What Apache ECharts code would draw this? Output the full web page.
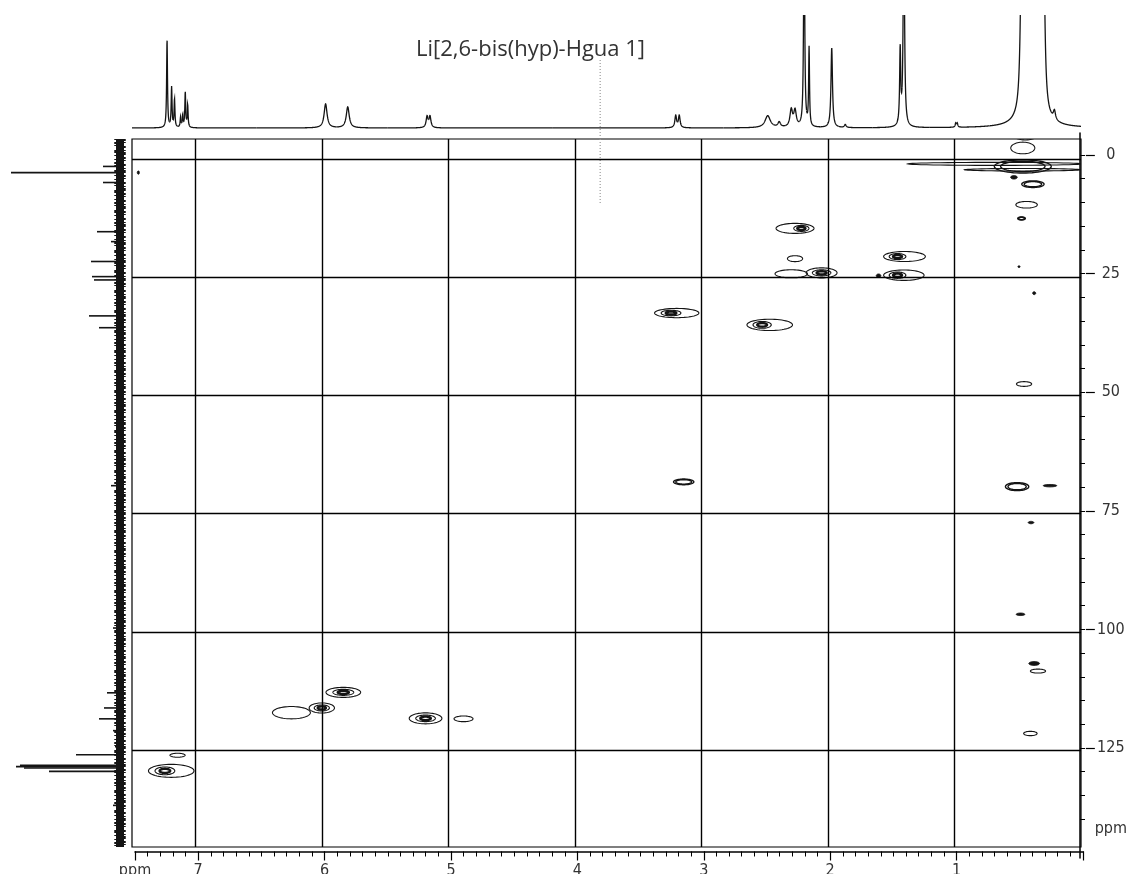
<!DOCTYPE html>
<html>
<head>
<meta charset="utf-8">
<script src="https://cdn.jsdelivr.net/npm/echarts@6/dist/echarts.min.js"></script>
<style>
  html, body { margin: 0; padding: 0; background: #fff; }
  #chart { width: 1130px; height: 874px; }
</style>
</head>
<body>
<div id="chart"></div>
<script>
// ---- data -------------------------------------------------------------
const titleText = 'Li[2,6-bis(hyp)-Hgua 1]';

// 1H projection: [ppm, height, half width at half height (ppm)]
const protonPeaks = [
  [7.223, 88, 0.004], [7.187, 40, 0.004], [7.164, 28, 0.004], [7.116, 10, 0.004],
  [7.099, 12, 0.004], [7.079, 35, 0.004], [7.060, 22, 0.004],
  [5.970, 24, 0.014], [5.795, 21, 0.014],
  [5.168, 11, 0.009], [5.145, 11, 0.009],
  [3.203, 12, 0.008], [3.175, 12, 0.008],
  [2.476, 12, 0.025], [2.385, 5, 0.012], [2.290, 17, 0.012], [2.260, 16, 0.012],
  [2.188, 220, 0.005], [2.149, 78, 0.004],
  [1.970, 80, 0.007], [1.863, 3, 0.008],
  [1.429, 75, 0.005], [1.400, 220, 0.006],
  [0.990, 4, 0.005], [0.978, 4, 0.005],
  [0.470, 150, 0.011], [0.440, 150, 0.011], [0.410, 150, 0.011], [0.380, 150, 0.011],
  [0.350, 150, 0.011], [0.320, 150, 0.011], [0.295, 150, 0.011],
  [0.390, 30, 0.06], [0.210, 9, 0.01]
];

// 13C projection: [ppm, intensity]
const carbonPeaks = [
  [1.6, 17], [2.9, 109], [5.0, 17], [15.4, 23], [17.5, 9], [21.7, 29],
  [24.9, 28], [25.6, 26], [33.2, 31], [35.7, 21], [69.1, 9], [99.2, 7],
  [107.6, 3], [112.9, 13], [116.1, 16], [118.4, 21], [120.9, 7], [124.3, 5],
  [126.0, 44], [128.2, 100], [128.5, 104], [128.8, 96], [129.5, 71], [136.7, 7]
];

// cross peaks: [1H ppm, 13C ppm, 1H half width, 13C half width, contour levels, outer contour extension (1H ppm)]
const crossPeaks = [
  [7.24, 129.4, 0.13, 1.37, 3, 0.10],
  [7.14, 126.1, 0.06, 0.42, 1, 0],
  [5.83, 112.8, 0.137, 1.06, 3, 0],
  [6.00, 116.1, 0.10, 1.06, 3, 0],
  [6.27, 117.1, 0.12, 1.3, 1, 0.06],
  [5.18, 118.3, 0.129, 1.16, 3, 0],
  [4.88, 118.4, 0.075, 0.6, 1, 0],
  [3.24, 32.6, 0.13, 0.98, 3, 0.09],
  [2.52, 35.1, 0.12, 1.2, 3, 0.12],
  [2.21, 14.7, 0.10, 1.06, 3, -0.10],
  [2.26, 21.1, 0.06, 0.63, 1, 0],
  [2.05, 24.1, 0.122, 1.06, 3, 0],
  [2.29, 24.3, 0.128, 0.85, 1, 0],
  [1.45, 20.65, 0.11, 1.06, 3, 0.11],
  [1.45, 24.6, 0.11, 1.1, 3, 0.10],
  [1.60, 24.7, 0.018, 0.35, 0, 0],
  [0.46, 1.6, 0.225, 1.4, 2, 0],
  [0.68, 1.06, 0.69, 0.32, 1, 0],
  [0.46, 2.3, 0.46, 0.27, 1, 0],
  [0.46, -2.3, 0.095, 1.23, 1, 0],
  [0.44, -4.9, 0.09, 0.9, 1, 0],
  [0.53, 3.9, 0.026, 0.36, 0, 0],
  [0.38, 5.35, 0.088, 0.7, 2, 0],
  [0.43, 9.7, 0.085, 0.7, 1, 0],
  [0.47, 12.6, 0.03, 0.32, 2, 0],
  [0.49, 22.8, 0.008, 0.2, 0, 0],
  [0.37, 28.4, 0.012, 0.3, 0, 0],
  [0.45, 47.6, 0.06, 0.5, 1, 0],
  [3.14, 68.3, 0.08, 0.6, 2, 0],
  [0.505, 69.3, 0.092, 0.85, 2, 0],
  [0.245, 69.1, 0.053, 0.25, 0, 0],
  [0.395, 76.9, 0.022, 0.25, 0, 0],
  [0.478, 96.3, 0.034, 0.26, 0, 0],
  [0.37, 106.7, 0.042, 0.4, 0, 0],
  [0.34, 108.3, 0.06, 0.42, 1, 0],
  [0.40, 121.5, 0.053, 0.46, 1, 0],
  [7.45, 2.9, 0.008, 0.35, 0, 0]
];

// axes
const hRange = [0, 7.5];          // 1H ppm shown
const cRange = [-4.2, 145.5];     // 13C ppm shown
const cRulerRange = [-4.64, 148.2];
const hGridPpm = [7, 6, 5, 4, 3, 2, 1];
const cGridPpm = [0, 25, 50, 75, 100, 125];
const hMajorTicks = [7.5, 7, 6, 5, 4, 3, 2, 1, 0];
const hTickLabels = [7.5, 7, 6, 5, 4, 3, 2, 1];
const cMajorTicks = [0, 25, 50, 75, 100, 125];
const cTickLabels = [0, 25, 50, 75, 100, 125, 142];
const unitLabel = 'ppm';
const dottedTracePpm = 3.80;

// minor ruler ticks
const hMinorTicks = [];
for (let i = 0; i <= 75; i++) hMinorTicks.push(+(i * 0.1).toFixed(1));
const cMinorTicks = [];
for (let v = 0; v <= 140; v += 5) cMinorTicks.push(v);

// ---- drawing helpers --------------------------------------------------
const INK = '#141414';

function envelope(ppm) {
  let s = 0;
  for (const p of protonPeaks) {
    const d = (ppm - p[0]) / p[2];
    s += p[1] / (1 + d * d);
  }
  return Math.min(s, 2000);
}
const sortedProton = protonPeaks.slice().sort((a, b) => b[0] - a[0]);

function ellipsePoints(cx, cy, rx, ry) {
  const pts = [];
  const n = 56;
  for (let k = 0; k < n; k++) {
    const t = (k / n) * Math.PI * 2;
    pts.push([cx + rx * Math.cos(t), cy + ry * Math.sin(t)]);
  }
  return pts;
}
const RING_SCALES = { 1: [1], 2: [1, 0.78], 3: [1, 0.6, 0.32] };

const chart = echarts.init(document.getElementById('chart'), null, { renderer: 'canvas' });

const rulerFont = { fontFamily: 'Liberation Sans Narrow, DejaVu Sans Condensed, sans-serif', fontSize: 16, color: '#333' };

chart.setOption({
  animation: false,
  backgroundColor: '#fff',
  title: {
    text: titleText,
    left: 411, top: 34,
    textStyle: { fontFamily: 'Open Sans', fontSize: 22, fontWeight: 'normal', color: '#333' }
  },
  grid: [
    { left: 132, right: 49, top: 139, bottom: 27, show: true, borderColor: '#000', borderWidth: 1.2, backgroundColor: 'transparent' },
    { left: 132, right: 49, top: 15, bottom: 736 },
    { left: 10, right: 1002, top: 139, bottom: 27 },
    { left: 135, right: 47, top: 850, bottom: 18 },
    { left: 1080, right: 39, top: 133, bottom: 16 }
  ],
  xAxis: [
    { gridIndex: 0, type: 'value', min: hRange[0], max: hRange[1], inverse: true, show: false },
    { gridIndex: 1, type: 'value', min: hRange[0], max: hRange[1], inverse: true, show: false },
    { gridIndex: 2, type: 'value', min: -8, max: 110, inverse: true, show: false },
    { gridIndex: 3, type: 'value', min: hRange[0], max: hRange[1], inverse: true, position: 'bottom',
      axisLine: { show: true, lineStyle: { color: '#000', width: 1.5 } },
      axisTick: { show: true, customValues: hMinorTicks, length: 5, lineStyle: { color: '#000', width: 1 } },
      axisLabel: { show: false }, splitLine: { show: false } },
    { gridIndex: 3, type: 'value', min: hRange[0], max: hRange[1], inverse: true, position: 'bottom',
      axisLine: { show: false },
      axisTick: { show: true, customValues: hMajorTicks, length: 9, lineStyle: { color: '#000', width: 1.2 } },
      axisLabel: { show: true, customValues: hTickLabels, margin: 11, ...rulerFont,
        formatter: v => (v === 7.5 ? unitLabel : String(v)) },
      splitLine: { show: false } },
    { gridIndex: 4, type: 'value', show: false }
  ],
  yAxis: [
    { gridIndex: 0, type: 'value', min: cRange[0], max: cRange[1], inverse: true, show: false },
    { gridIndex: 1, type: 'value', min: -10, max: 113, show: false },
    { gridIndex: 2, type: 'value', min: cRange[0], max: cRange[1], inverse: true, show: false },
    { gridIndex: 3, type: 'value', show: false },
    { gridIndex: 4, type: 'value', min: cRulerRange[0], max: cRulerRange[1], inverse: true, position: 'right',
      axisLine: { show: true, lineStyle: { color: '#000', width: 1.5 } },
      axisTick: { show: true, customValues: cMinorTicks, length: 5, lineStyle: { color: '#000', width: 1 } },
      axisLabel: { show: false }, splitLine: { show: false } },
    { gridIndex: 4, type: 'value', min: cRulerRange[0], max: cRulerRange[1], inverse: true, position: 'right',
      axisLine: { show: false },
      axisTick: { show: true, customValues: cMajorTicks, length: 9, lineStyle: { color: '#000', width: 1.2 } },
      axisLabel: { show: true, customValues: cTickLabels, margin: 25, align: 'center', ...rulerFont,
        formatter: v => (v === 142 ? unitLabel : String(v)) },
      splitLine: { show: false } }
  ],
  series: [
    // 2D grid lines and the faint dotted trace crossing the top of the plot
    {
      type: 'line', xAxisIndex: 0, yAxisIndex: 0, silent: true, symbol: 'none',
      data: [[dottedTracePpm, cRange[0]], [dottedTracePpm, 9.7]],
      lineStyle: { color: '#9a9a9a', width: 1.2, type: [1, 2] },
      markLine: {
        silent: true, symbol: 'none', label: { show: false },
        lineStyle: { color: '#000', width: 1.4, type: 'solid' },
        emphasis: { disabled: true },
        data: hGridPpm.map(v => ({ xAxis: v })).concat(cGridPpm.map(v => ({ yAxis: v })))
      }
    },
    {
      type: 'line', xAxisIndex: 1, yAxisIndex: 1, silent: true, symbol: 'none',
      data: [[dottedTracePpm, 68], [dottedTracePpm, -10]],
      lineStyle: { color: '#9a9a9a', width: 1.2, type: [1, 2] }
    },
    // contour plot
    {
      type: 'custom', xAxisIndex: 0, yAxisIndex: 0, clip: true, silent: true,
      data: crossPeaks, encode: { x: 0, y: 1 },
      renderItem(params, api) {
        const c = api.coord([api.value(0), api.value(1)]);
        const s = api.size([api.value(2), api.value(3)]);
        const levels = api.value(4);
        const tail = api.value(5);
        const children = [];
        if (levels === 0) {
          children.push({ type: 'polygon', shape: { points: ellipsePoints(c[0], c[1], s[0], s[1]) },
            style: { fill: INK, stroke: INK, lineWidth: 1 } });
        } else {
          const scales = RING_SCALES[levels];
          scales.forEach((sc, j) => {
            let cx = c[0];
            let rx = s[0] * sc;
            if (j === 0 && tail) {
              const ts = api.size([Math.abs(tail), 0])[0];
              cx += Math.sign(tail) * ts / 2;
              rx += ts / 2;
            }
            const inner = levels === 3 && j === scales.length - 1;
            children.push({ type: 'polygon', shape: { points: ellipsePoints(cx, c[1], rx, s[1] * sc) },
              style: { fill: 'none', stroke: INK, lineWidth: inner ? 2.4 : (levels === 2 ? 1.4 : 1.1) } });
          });
        }
        return { type: 'group', children };
      }
    },
    // 1H projection
    {
      type: 'custom', xAxisIndex: 1, yAxisIndex: 1, clip: true, silent: true,
      data: sortedProton, encode: { x: 0, y: 1 },
      renderItem(params, api) {
        const i = params.dataIndex;
        const hi = i === 0 ? hRange[1] : (sortedProton[i - 1][0] + sortedProton[i][0]) / 2;
        const lo = i === sortedProton.length - 1 ? hRange[0] : (sortedProton[i][0] + sortedProton[i + 1][0]) / 2;
        const pts = [];
        for (let x = hi; x > lo; x -= 0.0015) pts.push(api.coord([x, envelope(x)]));
        pts.push(api.coord([lo, envelope(lo)]));
        return { type: 'polyline', shape: { points: pts }, style: { fill: 'none', stroke: INK, lineWidth: 1.3 } };
      }
    },
    // 13C projection: noise band along the baseline
    {
      type: 'line', xAxisIndex: 2, yAxisIndex: 2, silent: true, symbol: 'none',
      data: [[0, cRange[0]], [0, cRange[1]]],
      lineStyle: { color: INK, width: 8 }
    },
    {
      type: 'line', xAxisIndex: 2, yAxisIndex: 2, silent: true, symbol: 'none',
      data: [[4.5, cRange[0]], [4.5, cRange[1]]],
      lineStyle: { color: INK, width: 2.5, type: [1, 2, 2, 1, 1, 4, 3, 2, 1, 3] }
    },
    {
      type: 'line', xAxisIndex: 2, yAxisIndex: 2, silent: true, symbol: 'none',
      data: [[-4.5, cRange[0]], [-4.5, cRange[1]]],
      lineStyle: { color: INK, width: 2.5, type: [2, 1, 1, 3, 2, 2, 1, 1, 3, 2] }
    },
    // 13C projection peaks
    {
      type: 'custom', xAxisIndex: 2, yAxisIndex: 2, silent: true,
      data: carbonPeaks, encode: { x: 1, y: 0 },
      renderItem(params, api) {
        const ppm = api.value(0), h = api.value(1);
        const b = api.coord([0, ppm]);
        const t = api.coord([h, ppm]);
        return { type: 'line', shape: { x1: b[0], y1: b[1], x2: t[0], y2: t[1] },
          style: { stroke: INK, lineWidth: 1.6 } };
      }
    }
  ]
});
</script>
</body>
</html>
